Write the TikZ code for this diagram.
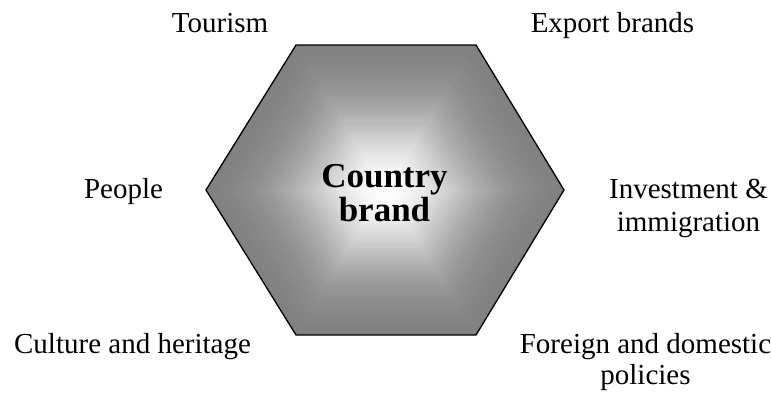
\documentclass[tikz,border=0pt]{standalone}
\usepackage{xcolor}
\usepackage{tikz}
\usepackage{fontspec}
\setmainfont{Liberation Serif}

\begin{document}
\begin{tikzpicture}[x=1pt,y=-1pt,
    factor/.style={font=\fontsize{29}{33}\selectfont, align=center, inner sep=0pt, anchor=base}]
				\useasboundingbox (0,0) rectangle (771,392);
				
				% Hexagon corners
				\coordinate (tl) at (296,45);
				\coordinate (tr) at (476,45);
				\coordinate (r) at (564,190);
				\coordinate (br) at (476,335);
				\coordinate (bl) at (296,335);
				\coordinate (l) at (206,190);
				
				% Shading, white in the middle
				\foreach \i in {0,...,59}{
					\pgfmathsetmacro\t{1-\i/60}
					\pgfmathtruncatemacro\g{49+51*exp(-(\t/0.55)^2)}
					\fill[white!\g!black, shift={(385,190)}, scale=\t]
						(-89,-145) -- (91,-145) -- (179,0) -- (91,145) -- (-89,145) -- (-179,0) -- cycle;
				}
				
				% Outline
				\draw[line width=1.3pt, line join=miter] (tl) -- (tr) -- (r) -- (br) -- (bl) -- (l) -- cycle;
				
				% Centre text (base = last line)
				\node[font=\bfseries\fontsize{35}{34}\selectfont, align=center, inner sep=0pt, anchor=base] (brand) at (384.5,221) {Country\\brand};
				
				% Surrounding factors
				\node[factor] (tourism) at (220,32) {Tourism};
				\node[factor] (export) at (612.5,32) {Export brands};
				\node[factor] (people) at (123.5,198) {People};
				\node[factor] (invest) at (688.5,231) {Investment \&\\immigration};
				\node[factor] (culture) at (132.5,353) {Culture and heritage};
				\node[factor, font=\fontsize{29}{31}\selectfont] (policy) at (645.5,384) {Foreign and domestic\\policies};
				
			\end{tikzpicture}
\end{document}
